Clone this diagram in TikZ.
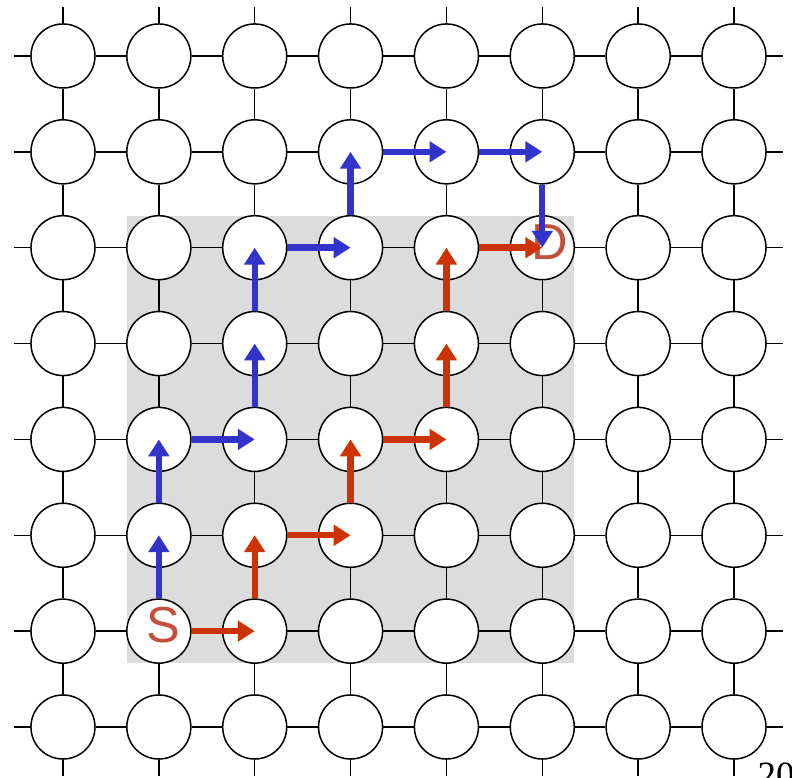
\documentclass[tikz,border=0pt]{standalone}
\usepackage{fontspec}
\setmainfont{Liberation Serif}
\setsansfont{Liberation Sans}
\usepackage{tikz}
\usetikzlibrary{positioning,arrows.meta}
\usepackage{xcolor}
\definecolor{zonegray}{RGB}{220,220,220}
\definecolor{hopblue}{RGB}{51,51,204}
\definecolor{hopred}{RGB}{204,51,0}
\definecolor{tagred}{RGB}{196,80,60}

\begin{document}
\begin{tikzpicture}[x=1cm, y=1cm,
  router/.style={circle, draw, fill=white, minimum size=0.668cm, inner sep=0pt, line width=0.45pt},
  link/.style={line width=0.45pt},
  zone/.style={fill=zonegray},
  tag/.style={font=\sffamily\fontsize{15}{18}\selectfont, text=tagred, inner sep=0pt},
  bluehop/.style={-{Triangle[length=5pt, width=6pt]}, line width=1.9pt, hopblue},
  redhop/.style={-{Triangle[length=5pt, width=6pt]}, line width=1.9pt, hopred},
]
  \useasboundingbox (-0.657,-0.532) rectangle (7.605,7.584);

  % region of minimal paths
  \fill[zone] (0.667,0.667) rectangle (5.333,5.333);

  % 8x8 mesh of routers
  \foreach \i in {0,...,7}
    \foreach \j in {0,...,7}
      \node[router] (v-\i-\j) at (\i,\j) {};

  % links between neighbours
  \foreach \i [count=\k] in {0,...,6}
    \foreach \j in {0,...,7} {
      \draw[link] (v-\i-\j) -- (v-\k-\j);
      \draw[link] (v-\j-\i) -- (v-\j-\k);
    }

  % links leaving the edge of the mesh
  \foreach \j in {0,...,7} {
    \coordinate (w-\j) at (-0.51,\j);
    \coordinate (e-\j) at (7.51,\j);
    \coordinate (s-\j) at (\j,-0.51);
    \coordinate (n-\j) at (\j,7.51);
    \draw[link] (v-0-\j) -- (w-\j);
    \draw[link] (v-7-\j) -- (e-\j);
    \draw[link] (v-\j-0) -- (s-\j);
    \draw[link] (v-\j-7) -- (n-\j);
  }

  \node[tag, xshift=0.052cm, yshift=0.063cm] (src) at (v-1-1) {S};
  \node[tag, xshift=0.073cm, yshift=0.063cm] (dst) at (v-5-5) {D};

  % red path
  \draw[redhop] (v-1-1) -- (v-2-1.center);
  \draw[redhop] (v-2-1) -- (v-2-2.center);
  \draw[redhop] (v-2-2) -- (v-3-2.center);
  \draw[redhop] (v-3-2) -- (v-3-3.center);
  \draw[redhop] (v-3-3) -- (v-4-3.center);
  \draw[redhop] (v-4-3) -- (v-4-4.center);
  \draw[redhop] (v-4-4) -- (v-4-5.center);
  \draw[redhop] (v-4-5) -- (v-5-5.center);

  % blue path
  \draw[bluehop] (v-1-1) -- (v-1-2.center);
  \draw[bluehop] (v-1-2) -- (v-1-3.center);
  \draw[bluehop] (v-1-3) -- (v-2-3.center);
  \draw[bluehop] (v-2-3) -- (v-2-4.center);
  \draw[bluehop] (v-2-4) -- (v-2-5.center);
  \draw[bluehop] (v-2-5) -- (v-3-5.center);
  \draw[bluehop] (v-3-5) -- (v-3-6.center);
  \draw[bluehop] (v-3-6) -- (v-4-6.center);
  \draw[bluehop] (v-4-6) -- (v-5-6.center);
  \draw[bluehop] (v-5-6) -- (v-5-5.center);

  \node[anchor=north west, inner sep=0pt, font=\fontsize{11}{13}\selectfont] (pagenum) at (7.24,-0.365) {20};
\end{tikzpicture}
\end{document}
